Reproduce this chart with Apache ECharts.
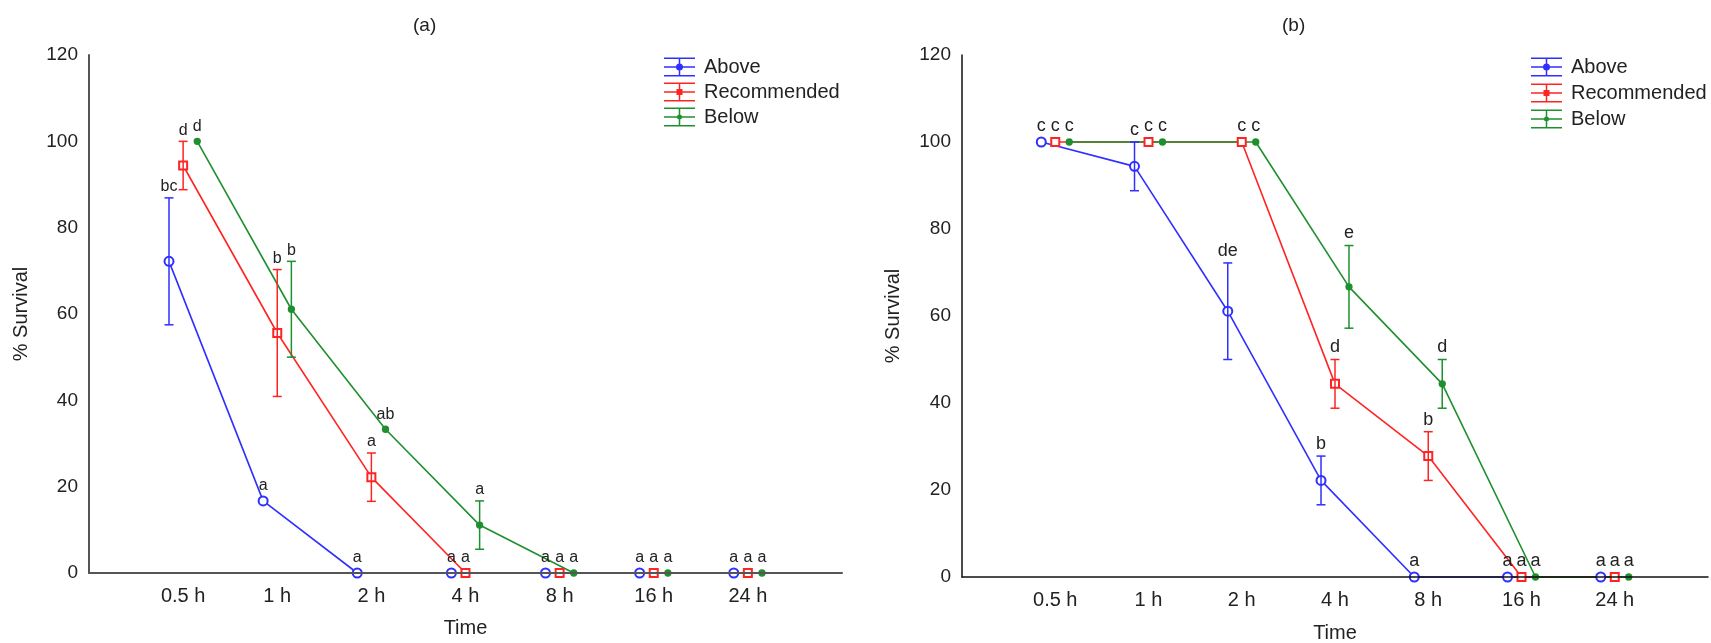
<!DOCTYPE html>
<html>
<head>
<meta charset="utf-8">
<script src="https://cdn.jsdelivr.net/npm/echarts@6/dist/echarts.min.js"></script>
<style>
  html, body { margin: 0; padding: 0; background: #ffffff; }
  #chart { width: 1711px; height: 643px; }
</style>
</head>
<body>
<div id="chart"></div>
<script>
// Sampling times
const categories = ['0.5 h', '1 h', '2 h', '4 h', '8 h', '16 h', '24 h'];
const yTicks = [0, 20, 40, 60, 80, 100, 120];

// Panel (a): % survival, error (±) and significance letters
const aboveA      = [72.2, 16.7, 0, 0, 0, 0, 0];
const aboveAErr   = [14.7, 0, 0, 0, 0, 0, 0];
const aboveALab   = ['bc', 'a', 'a', 'a', 'a', 'a', 'a'];
const recA        = [94.4, 55.6, 22.2, 0, 0, 0, 0];
const recAErr     = [5.6, 14.7, 5.6, 0, 0, 0, 0];
const recALab     = ['d', 'b', 'a', 'a', 'a', 'a', 'a'];
const belowA      = [100, 61.1, 33.3, 11.1, 0, 0, 0];
const belowAErr   = [0, 11.1, 0, 5.6, 0, 0, 0];
const belowALab   = ['d', 'b', 'ab', 'a', 'a', 'a', 'a'];

// Panel (b)
const aboveB      = [100, 94.4, 61.1, 22.2, 0, 0, 0];
const aboveBErr   = [0, 5.6, 11.1, 5.6, 0, 0, 0];
const aboveBLab   = ['c', 'c', 'de', 'b', 'a', 'a', 'a'];
const recB        = [100, 100, 100, 44.4, 27.8, 0, 0];
const recBErr     = [0, 0, 0, 5.6, 5.6, 0, 0];
const recBLab     = ['c', 'c', 'c', 'd', 'b', 'a', 'a'];
const belowB      = [100, 100, 100, 66.7, 44.4, 0, 0];
const belowBErr   = [0, 0, 0, 9.5, 5.6, 0, 0];
const belowBLab   = ['c', 'c', 'c', 'e', 'd', 'a', 'a'];

const FONT = '"Liberation Sans", Arial, Helvetica, sans-serif';
const TEXT = '#222222';
const COLORS = { Above: '#2f2fff', Recommended: '#ff2424', Below: '#1f8f2f' };
// horizontal dodge of each group around its time slot (in slot units)
const DODGE = { Above: -0.15, Recommended: 0, Below: 0.15 };

function pts(name, values) {
  return values.map((v, i) => [i + 1 + DODGE[name], v]);
}

function lineSeries(name, values, axis, symbol, size) {
  const c = COLORS[name];
  return {
    type: 'line', name: name, xAxisIndex: axis, yAxisIndex: axis,
    data: pts(name, values),
    symbol: symbol, symbolSize: size, showSymbol: true,
    lineStyle: { color: c, width: 1.6 },
    itemStyle: { color: c, borderColor: c, borderWidth: 1.3 },
    emphasis: { disabled: true },
    animation: false, clip: false, z: 2
  };
}

function errorSeries(name, values, errs, labels, axis, fontSize) {
  const c = COLORS[name];
  return {
    type: 'custom', xAxisIndex: axis, yAxisIndex: axis,
    data: values.map((v, i) => [i + 1 + DODGE[name], v, errs[i]]),
    encode: { x: 0, y: 1 },
    animation: false, clip: false, silent: true, z: 3,
    renderItem: function (params, api) {
      const x = api.value(0), y = api.value(1), e = api.value(2);
      const top = api.coord([x, y + e]);
      const bot = api.coord([x, y - e]);
      const children = [];
      if (e > 0) {
        const cap = 4.5;
        const st = { stroke: c, lineWidth: 1.5 };
        children.push({ type: 'line', shape: { x1: top[0], y1: top[1], x2: bot[0], y2: bot[1] }, style: st });
        children.push({ type: 'line', shape: { x1: top[0] - cap, y1: top[1], x2: top[0] + cap, y2: top[1] }, style: st });
        children.push({ type: 'line', shape: { x1: bot[0] - cap, y1: bot[1], x2: bot[0] + cap, y2: bot[1] }, style: st });
      }
      children.push({
        type: 'text',
        style: {
          text: labels[params.dataIndex],
          x: top[0], y: top[1] - (e > 0 ? 3 : 7),
          align: 'center', verticalAlign: 'bottom',
          fill: TEXT, fontSize: fontSize, fontFamily: FONT
        }
      });
      return { type: 'group', children: children };
    }
  };
}

// error-bar style legend icons
const BAR = 'M0,0H31V1.5H0Z M0,8.75H31V10.25H0Z M0,17.5H31V19H0Z M14.75,0H16.25V19H14.75Z ';
const ICONS = {
  Above: 'path://' + BAR + 'M19,9.5A3.5,3.5,0,1,1,12,9.5A3.5,3.5,0,1,1,19,9.5Z',
  Recommended: 'path://' + BAR + 'M12.5,6.5H18.5V12.5H12.5Z',
  Below: 'path://' + BAR + 'M18,9.5A2.5,2.5,0,1,1,13,9.5A2.5,2.5,0,1,1,18,9.5Z'
};
const legendData = ['Above', 'Recommended', 'Below'].map(n => ({
  name: n, icon: ICONS[n], itemStyle: { color: COLORS[n], borderWidth: 0 }
}));

function legend(left, gap) {
  return {
    orient: 'vertical', left: left, top: 57, padding: 0,
    itemWidth: 31, itemHeight: 19, itemGap: gap,
    selectedMode: false, data: legendData,
    textStyle: { fontSize: 20, color: TEXT, fontFamily: FONT, padding: [0, 0, 0, 4] }
  };
}

// axes sit above the series so points at 0 % tuck under the baseline
function xAxis(grid, lineColor, lineWidth) {
  return {
    type: 'value', gridIndex: grid, min: 0, max: 8, interval: 1, z: 5,
    name: 'Time', nameLocation: 'middle', nameGap: grid === 0 ? 45 : 46,
    nameTextStyle: { fontSize: 20, color: TEXT, fontFamily: FONT },
    axisLine: { show: true, onZero: false, lineStyle: { color: lineColor, width: lineWidth } },
    axisTick: { show: false }, splitLine: { show: false },
    axisLabel: {
      fontSize: 20, color: TEXT, fontFamily: FONT, margin: 13,
      formatter: v => (v >= 1 && v <= categories.length) ? categories[v - 1] : ''
    }
  };
}

function yAxis(grid, lineColor, lineWidth) {
  return {
    type: 'value', gridIndex: grid, z: 5,
    min: yTicks[0], max: yTicks[yTicks.length - 1], interval: yTicks[1] - yTicks[0],
    name: '% Survival', nameLocation: 'middle', nameGap: grid === 0 ? 58 : 59, nameRotate: 90,
    nameTextStyle: { fontSize: 20, color: TEXT, fontFamily: FONT },
    axisLine: { show: true, lineStyle: { color: lineColor, width: lineWidth } },
    axisTick: { show: false }, splitLine: { show: false },
    axisLabel: { fontSize: 19, color: TEXT, fontFamily: FONT, margin: 11 }
  };
}

const titleStyle = { fontSize: 19, fontWeight: 'normal', color: TEXT, fontFamily: FONT };

const option = {
  backgroundColor: '#ffffff',
  animation: false,
  title: [
    { text: '(a)', left: 413, top: 16, padding: 0, textStyle: titleStyle },
    { text: '(b)', left: 1282, top: 16, padding: 0, textStyle: titleStyle }
  ],
  legend: [legend(664, 5), legend(1531, 6)],
  grid: [
    { left: 89, right: 869, top: 55, bottom: 70, containLabel: false, outerBoundsMode: 'none' },
    { left: 962, right: 3, top: 55, bottom: 66, containLabel: false, outerBoundsMode: 'none' }
  ],
  xAxis: [xAxis(0, '#555555', 2), xAxis(1, '#111111', 1.5)],
  yAxis: [yAxis(0, '#555555', 2), yAxis(1, '#111111', 1.5)],
  series: [
    lineSeries('Above', aboveA, 0, 'emptyCircle', 9),
    lineSeries('Recommended', recA, 0, 'emptyRect', 8),
    lineSeries('Below', belowA, 0, 'circle', 6),
    errorSeries('Above', aboveA, aboveAErr, aboveALab, 0, 16),
    errorSeries('Recommended', recA, recAErr, recALab, 0, 16),
    errorSeries('Below', belowA, belowAErr, belowALab, 0, 16),

    lineSeries('Above', aboveB, 1, 'emptyCircle', 9),
    lineSeries('Recommended', recB, 1, 'emptyRect', 8),
    lineSeries('Below', belowB, 1, 'circle', 6),
    errorSeries('Above', aboveB, aboveBErr, aboveBLab, 1, 18),
    errorSeries('Recommended', recB, recBErr, recBLab, 1, 18),
    errorSeries('Below', belowB, belowBErr, belowBLab, 1, 18)
  ]
};

const chart = echarts.init(document.getElementById('chart'), null, { renderer: 'canvas' });
chart.setOption(option);
</script>
</body>
</html>
